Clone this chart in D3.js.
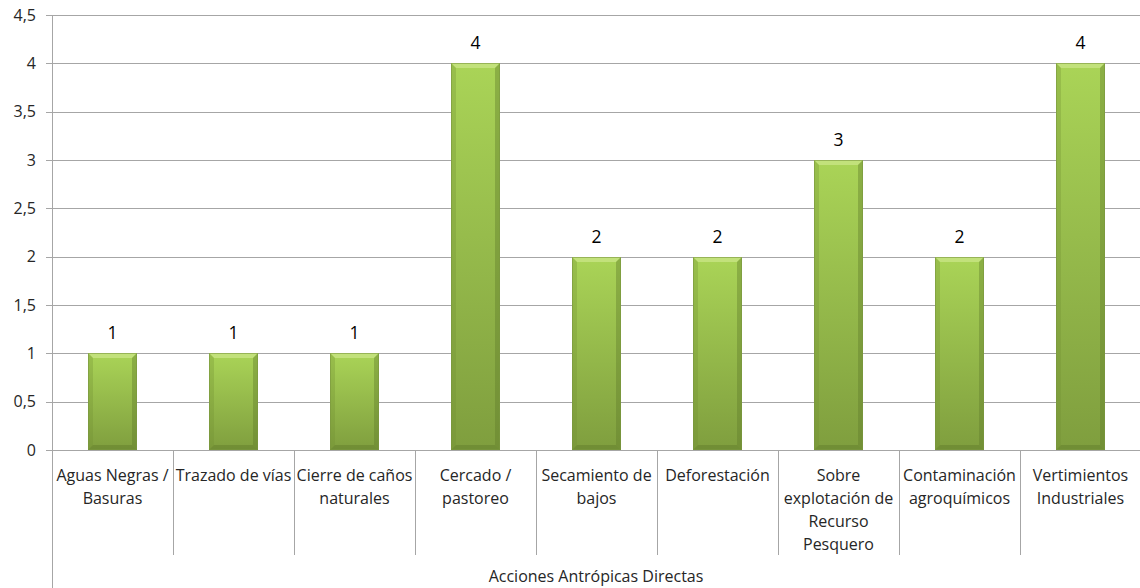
<!DOCTYPE html>
<html>
<head>
<meta charset="utf-8">
<script src="https://cdn.jsdelivr.net/npm/d3@7"></script>
<style>
  html, body { margin: 0; padding: 0; background: #fff; }
  svg { display: block; }
  text { font-family: "Open Sans", "Noto Sans", sans-serif; }
</style>
</head>
<body>
<svg id="chart" width="1140" height="588"></svg>
<script>
// Categories (line breaks mark where each label wraps)
const categories = [
  "Aguas Negras /\nBasuras",
  "Trazado de vías",
  "Cierre de caños\nnaturales",
  "Cercado /\npastoreo",
  "Secamiento de\nbajos",
  "Deforestación",
  "Sobre\nexplotación de\nRecurso\nPesquero",
  "Contaminación\nagroquímicos",
  "Vertimientos\nIndustriales"
];
const values = [1, 1, 1, 4, 2, 2, 3, 2, 4];
const yTicks = [0, 0.5, 1, 1.5, 2, 2.5, 3, 3.5, 4, 4.5];
const axisTitle = "Acciones Antrópicas Directas";

const svg = d3.select("#chart");
const margin = { left: 52, right: -1, top: 15, bottom: 138 };
const W = 1140, H = 588;

const x = d3.scaleBand()
  .domain(categories)
  .range([margin.left, W - margin.right])
  .paddingInner(0.595)
  .paddingOuter(0.2975);
const xOuter = d3.scaleBand().domain(categories).range([margin.left, W - margin.right]);

const y = d3.scaleLinear().domain([0, 4.5]).range([H - margin.bottom, margin.top]);
const fmt = v => String(v).replace(".", ",");

// Gradient for bar fill
const defs = svg.append("defs");
const g1 = defs.append("linearGradient").attr("id", "barFill")
  .attr("x1", 0).attr("y1", 0).attr("x2", 0).attr("y2", 1);
g1.append("stop").attr("offset", "0%").attr("stop-color", "#aad457");
g1.append("stop").attr("offset", "100%").attr("stop-color", "#7f9e3e");

// Horizontal gridlines
svg.append("g").selectAll("line").data(yTicks).join("line")
  .attr("x1", margin.left - 6).attr("x2", W)
  .attr("y1", d => Math.round(y(d)) + 0.5).attr("y2", d => Math.round(y(d)) + 0.5)
  .attr("stroke", "#a6a6a6").attr("stroke-width", 1);

// Y tick labels
svg.append("g").selectAll("text").data(yTicks).join("text")
  .attr("x", margin.left - 16)
  .attr("y", d => y(d))
  .attr("dy", "0.35em")
  .attr("text-anchor", "end")
  .attr("font-size", 16)
  .attr("fill", "#262626")
  .text(fmt);

// Y axis line (extends down through the category area)
svg.append("line")
  .attr("x1", margin.left + 0.5).attr("x2", margin.left + 0.5)
  .attr("y1", y(4.5)).attr("y2", H)
  .attr("stroke", "#a6a6a6");

// Category separators
const y0 = Math.round(y(0));
svg.append("g").selectAll("line").data(categories.slice(1)).join("line")
  .attr("x1", d => Math.round(xOuter(d)) + 0.5).attr("x2", d => Math.round(xOuter(d)) + 0.5)
  .attr("y1", y0).attr("y2", 555)
  .attr("stroke", "#a6a6a6");

// Bars
const bars = svg.append("g").selectAll("g").data(values.map((v, i) => ({ v, c: categories[i] })))
  .join("g");
bars.each(function(d) {
  const gb = d3.select(this);
  const bx = Math.round(x(d.c)), bw = Math.round(x.bandwidth());
  const by = Math.round(y(d.v)), bh = y0 - by;
  const b = 5;
  gb.append("rect").attr("x", bx).attr("y", by).attr("width", bw).attr("height", bh)
    .attr("fill", "url(#barFill)");
  // bevel: top light, sides and bottom shaded
  gb.append("path").attr("d", `M${bx},${by}L${bx + bw},${by}L${bx + bw - b},${by + b}L${bx + b},${by + b}Z`)
    .attr("fill", "#c8e585").attr("opacity", 0.8);
  gb.append("path").attr("d", `M${bx},${by}L${bx + b},${by + b}L${bx + b},${by + bh - b}L${bx},${by + bh}Z`)
    .attr("fill", "#6f8d33").attr("opacity", 0.3);
  gb.append("path").attr("d", `M${bx + bw},${by}L${bx + bw - b},${by + b}L${bx + bw - b},${by + bh - b}L${bx + bw},${by + bh}Z`)
    .attr("fill", "#5f7a2a").attr("opacity", 0.4);
  gb.append("path").attr("d", `M${bx},${by + bh}L${bx + b},${by + bh - b}L${bx + bw - b},${by + bh - b}L${bx + bw},${by + bh}Z`)
    .attr("fill", "#5f7a2a").attr("opacity", 0.45);
  gb.append("rect").attr("x", bx + 0.5).attr("y", by + 0.5).attr("width", bw - 1).attr("height", bh - 1)
    .attr("fill", "none").attr("stroke", "#7a9640").attr("stroke-opacity", 0.6);
  // value label
  gb.append("text")
    .attr("x", bx + bw / 2).attr("y", by - 14)
    .attr("text-anchor", "middle")
    .attr("font-size", 17.5)
    .attr("fill", "#000")
    .text(d.v);
});

// Category labels
const lab = svg.append("g").selectAll("text").data(categories).join("text")
  .attr("text-anchor", "middle")
  .attr("font-size", 16)
  .attr("fill", "#262626");
lab.each(function(d) {
  const t = d3.select(this);
  d.split("\n").forEach((line, i) => {
    t.append("tspan")
      .attr("x", xOuter(d) + xOuter.bandwidth() / 2)
      .attr("y", 481 + i * 23)
      .text(line);
  });
});

// Axis title
svg.append("text")
  .attr("x", (margin.left + W) / 2).attr("y", 582)
  .attr("text-anchor", "middle")
  .attr("font-size", 16)
  .attr("fill", "#262626")
  .text(axisTitle);
</script>
</body>
</html>
